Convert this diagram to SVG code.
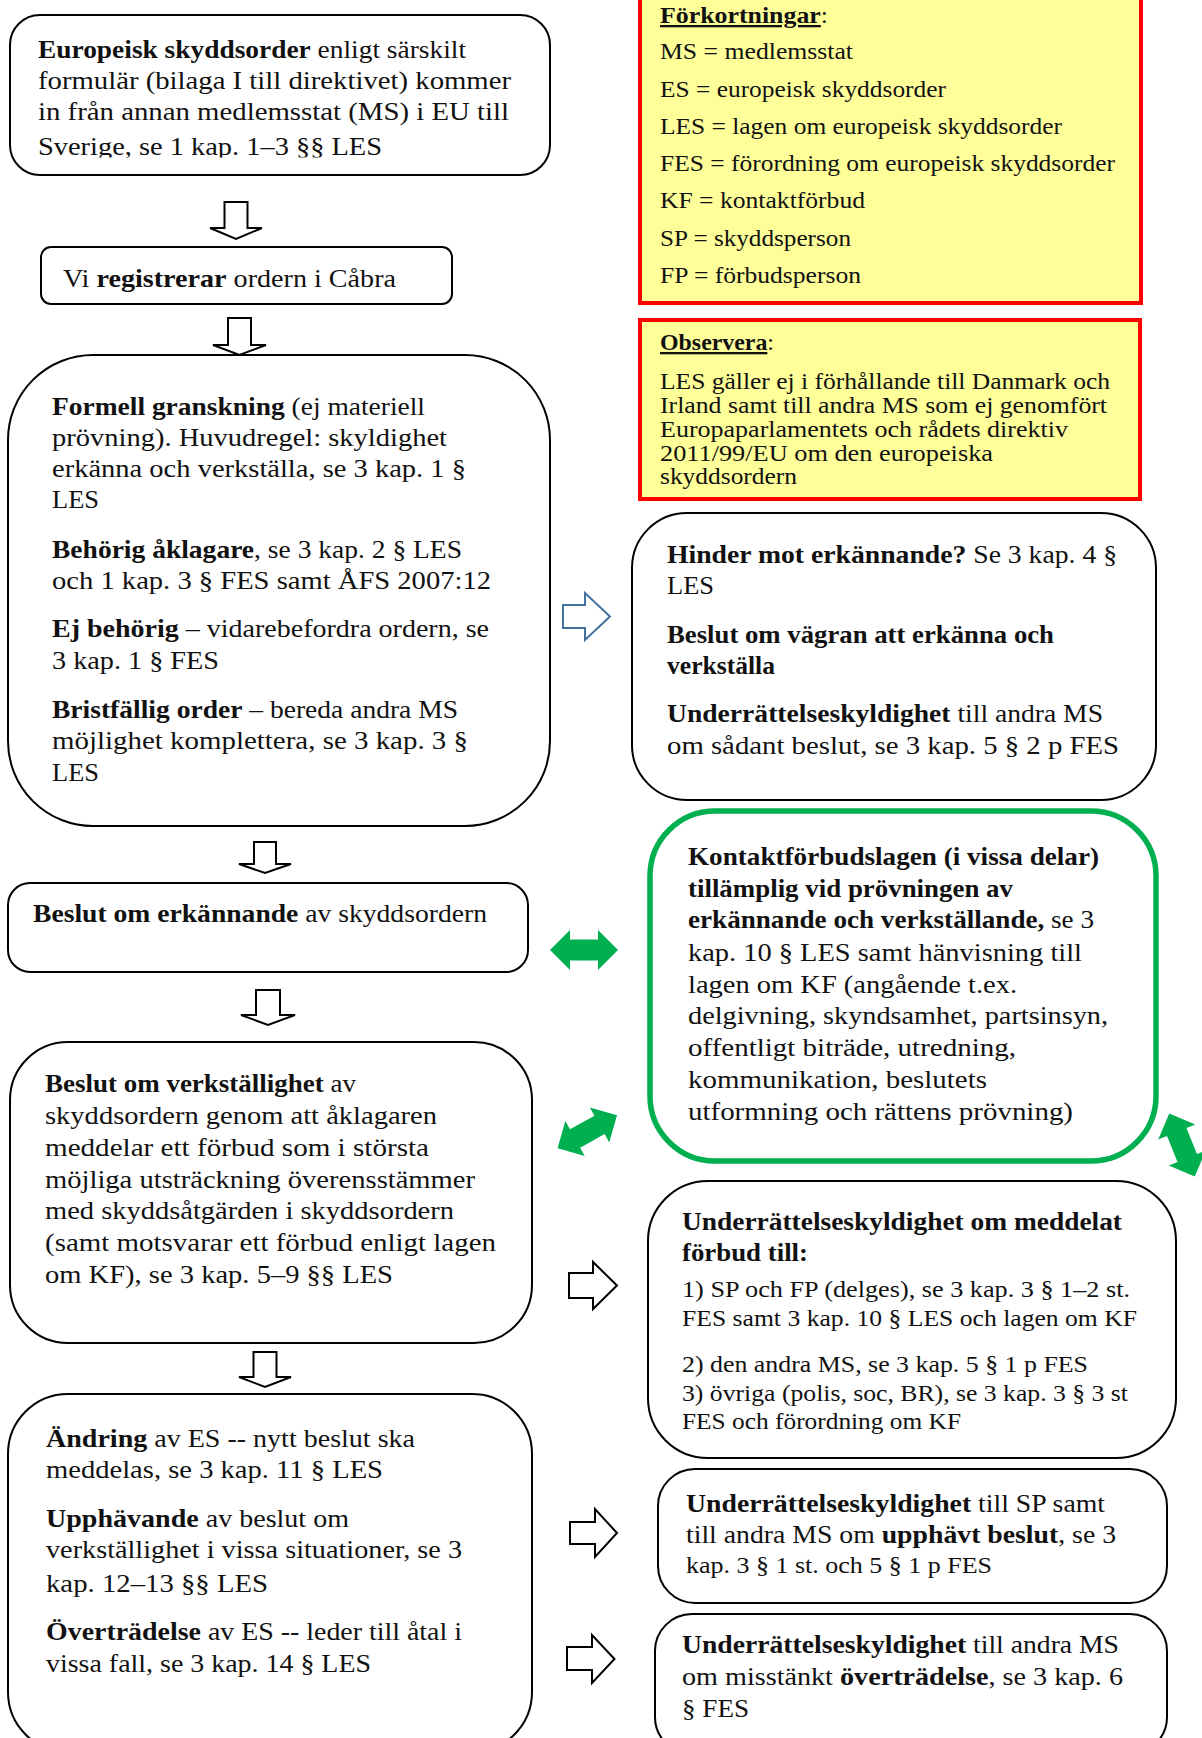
<svg xmlns="http://www.w3.org/2000/svg" xmlns:xlink="http://www.w3.org/1999/xlink" width="1202" height="1738" viewBox="0 0 1202 1738">
<style>
.t{font-family:"Liberation Serif","Times New Roman",serif;font-size:25px;fill:#111}
.s{font-size:23px}
.b{font-weight:bold}
.u{text-decoration:underline}
.box{fill:#fff;stroke:#000;stroke-width:2}
.note{fill:#FFFF99;stroke:#FF0000;stroke-width:4}
.green{fill:#fff;stroke:#00B050;stroke-width:5.5}
.ha{fill:#fff;stroke:#000;stroke-width:2}
.blue{fill:#fff;stroke:#41719C;stroke-width:2}
.ga{fill:#00B050}
</style>
<defs>
<clipPath id="clipA"><rect x="0" y="0" width="600" height="157.5"/></clipPath>
<path id="dbl" d="M-34,0 L-14,-20 L-14,-10.5 L14,-10.5 L14,-20 L34,0 L14,20 L14,10.5 L-14,10.5 L-14,20 Z"/>
</defs>
<rect width="1202" height="1738" fill="#fff"/>

<g id="forkortningar">
<rect class="note" x="640" y="-10" width="501" height="313"/>
<text class="t s" x="660" y="23" textLength="168" lengthAdjust="spacingAndGlyphs"><tspan class="b u">Förkortningar</tspan>:</text>
<text class="t s" x="660" y="59" textLength="193" lengthAdjust="spacingAndGlyphs">MS = medlemsstat</text>
<text class="t s" x="660" y="97" textLength="286" lengthAdjust="spacingAndGlyphs">ES = europeisk skyddsorder</text>
<text class="t s" x="660" y="134" textLength="402" lengthAdjust="spacingAndGlyphs">LES = lagen om europeisk skyddsorder</text>
<text class="t s" x="660" y="171" textLength="455" lengthAdjust="spacingAndGlyphs">FES = förordning om europeisk skyddsorder</text>
<text class="t s" x="660" y="208" textLength="205" lengthAdjust="spacingAndGlyphs">KF = kontaktförbud</text>
<text class="t s" x="660" y="246" textLength="191" lengthAdjust="spacingAndGlyphs">SP = skyddsperson</text>
<text class="t s" x="660" y="283" textLength="201" lengthAdjust="spacingAndGlyphs">FP = förbudsperson</text>
</g>

<g id="observera">
<rect class="note" x="640" y="320" width="500" height="179"/>
<text class="t s" x="660" y="350" textLength="114" lengthAdjust="spacingAndGlyphs"><tspan class="b u">Observera</tspan>:</text>
<text class="t s" x="660" y="389" textLength="450" lengthAdjust="spacingAndGlyphs">LES gäller ej i förhållande till Danmark och</text>
<text class="t s" x="660" y="413" textLength="447" lengthAdjust="spacingAndGlyphs">Irland samt till andra MS som ej genomfört</text>
<text class="t s" x="660" y="437" textLength="408" lengthAdjust="spacingAndGlyphs">Europaparlamentets och rådets direktiv</text>
<text class="t s" x="660" y="461" textLength="333" lengthAdjust="spacingAndGlyphs">2011/99/EU om den europeiska</text>
<text class="t s" x="660" y="484" textLength="137" lengthAdjust="spacingAndGlyphs">skyddsordern</text>
</g>

<g id="europeisk-skyddsorder">
<rect class="box" x="10" y="15" width="540" height="160" rx="30"/>
<g clip-path="url(#clipA)">
<text class="t" x="38" y="58" textLength="428" lengthAdjust="spacingAndGlyphs"><tspan class="b">Europeisk skyddsorder</tspan> enligt särskilt</text>
<text class="t" x="38" y="89" textLength="473" lengthAdjust="spacingAndGlyphs">formulär (bilaga I till direktivet) kommer</text>
<text class="t" x="38" y="120" textLength="471" lengthAdjust="spacingAndGlyphs">in från annan medlemsstat (MS) i EU till</text>
<text class="t" x="38" y="155" textLength="344" lengthAdjust="spacingAndGlyphs">Sverige, se 1 kap. 1–3 §§ LES</text>
</g>
</g>

<g id="registrera">
<rect class="box" x="41" y="247" width="411" height="57" rx="10"/>
<text class="t" x="63" y="287" textLength="333" lengthAdjust="spacingAndGlyphs">Vi <tspan class="b">registrerar</tspan> ordern i Cåbra</text>
</g>

<g id="formell-granskning">
<rect class="box" x="8" y="355" width="542" height="471" rx="85"/>
<text class="t" x="52" y="415" textLength="373" lengthAdjust="spacingAndGlyphs"><tspan class="b">Formell granskning</tspan> (ej materiell</text>
<text class="t" x="52" y="446" textLength="395" lengthAdjust="spacingAndGlyphs">prövning). Huvudregel: skyldighet</text>
<text class="t" x="52" y="477" textLength="414" lengthAdjust="spacingAndGlyphs">erkänna och verkställa, se 3 kap. 1 §</text>
<text class="t" x="52" y="508" textLength="47" lengthAdjust="spacingAndGlyphs">LES</text>
<text class="t" x="52" y="558" textLength="410" lengthAdjust="spacingAndGlyphs"><tspan class="b">Behörig åklagare</tspan>, se 3 kap. 2 § LES</text>
<text class="t" x="52" y="589" textLength="439" lengthAdjust="spacingAndGlyphs">och 1 kap. 3 § FES samt ÅFS 2007:12</text>
<text class="t" x="52" y="637" textLength="437" lengthAdjust="spacingAndGlyphs"><tspan class="b">Ej behörig</tspan> – vidarebefordra ordern, se</text>
<text class="t" x="52" y="669" textLength="167" lengthAdjust="spacingAndGlyphs">3 kap. 1 § FES</text>
<text class="t" x="52" y="718" textLength="406" lengthAdjust="spacingAndGlyphs"><tspan class="b">Bristfällig order</tspan> – bereda andra MS</text>
<text class="t" x="52" y="749" textLength="416" lengthAdjust="spacingAndGlyphs">möjlighet komplettera, se 3 kap. 3 §</text>
<text class="t" x="52" y="781" textLength="47" lengthAdjust="spacingAndGlyphs">LES</text>
</g>

<g id="hinder">
<rect class="box" x="632" y="513" width="524" height="287" rx="55"/>
<text class="t" x="667" y="563" textLength="450" lengthAdjust="spacingAndGlyphs"><tspan class="b">Hinder mot erkännande?</tspan> Se 3 kap. 4 §</text>
<text class="t" x="667" y="594" textLength="47" lengthAdjust="spacingAndGlyphs">LES</text>
<text class="t b" x="667" y="643" textLength="387" lengthAdjust="spacingAndGlyphs">Beslut om vägran att erkänna och</text>
<text class="t b" x="667" y="674" textLength="108" lengthAdjust="spacingAndGlyphs">verkställa</text>
<text class="t" x="667" y="722" textLength="436" lengthAdjust="spacingAndGlyphs"><tspan class="b">Underrättelseskyldighet</tspan> till andra MS</text>
<text class="t" x="667" y="754" textLength="452" lengthAdjust="spacingAndGlyphs">om sådant beslut, se 3 kap. 5 § 2 p FES</text>
</g>

<g id="kontaktforbudslagen">
<rect class="green" x="650" y="811" width="506" height="350" rx="65"/>
<text class="t b" x="688" y="865" textLength="411" lengthAdjust="spacingAndGlyphs">Kontaktförbudslagen (i vissa delar)</text>
<text class="t b" x="688" y="897" textLength="325" lengthAdjust="spacingAndGlyphs">tillämplig vid prövningen av</text>
<text class="t" x="688" y="928" textLength="406" lengthAdjust="spacingAndGlyphs"><tspan class="b">erkännande och verkställande,</tspan> se 3</text>
<text class="t" x="688" y="961" textLength="394" lengthAdjust="spacingAndGlyphs">kap. 10 § LES samt hänvisning till</text>
<text class="t" x="688" y="993" textLength="329" lengthAdjust="spacingAndGlyphs">lagen om KF (angående t.ex.</text>
<text class="t" x="688" y="1024" textLength="420" lengthAdjust="spacingAndGlyphs">delgivning, skyndsamhet, partsinsyn,</text>
<text class="t" x="688" y="1056" textLength="328" lengthAdjust="spacingAndGlyphs">offentligt biträde, utredning,</text>
<text class="t" x="688" y="1088" textLength="299" lengthAdjust="spacingAndGlyphs">kommunikation, beslutets</text>
<text class="t" x="688" y="1120" textLength="385" lengthAdjust="spacingAndGlyphs">utformning och rättens prövning)</text>
</g>

<g id="beslut-erkannande">
<rect class="box" x="8" y="883" width="520" height="89" rx="22"/>
<text class="t" x="33" y="922" textLength="454" lengthAdjust="spacingAndGlyphs"><tspan class="b">Beslut om erkännande</tspan> av skyddsordern</text>
</g>

<g id="beslut-verkstallighet">
<rect class="box" x="10" y="1042" width="522" height="301" rx="58"/>
<text class="t" x="45" y="1092" textLength="311" lengthAdjust="spacingAndGlyphs"><tspan class="b">Beslut om verkställighet</tspan> av</text>
<text class="t" x="45" y="1124" textLength="392" lengthAdjust="spacingAndGlyphs">skyddsordern genom att åklagaren</text>
<text class="t" x="45" y="1156" textLength="384" lengthAdjust="spacingAndGlyphs">meddelar ett förbud som i största</text>
<text class="t" x="45" y="1188" textLength="430" lengthAdjust="spacingAndGlyphs">möjliga utsträckning överensstämmer</text>
<text class="t" x="45" y="1219" textLength="409" lengthAdjust="spacingAndGlyphs">med skyddsåtgärden i skyddsordern</text>
<text class="t" x="45" y="1251" textLength="451" lengthAdjust="spacingAndGlyphs">(samt motsvarar ett förbud enligt lagen</text>
<text class="t" x="45" y="1283" textLength="348" lengthAdjust="spacingAndGlyphs">om KF), se 3 kap. 5–9 §§ LES</text>
</g>

<g id="underrattelse-forbud">
<rect class="box" x="648" y="1181" width="528" height="277" rx="60"/>
<text class="t b" x="682" y="1230" textLength="440" lengthAdjust="spacingAndGlyphs">Underrättelseskyldighet om meddelat</text>
<text class="t b" x="682" y="1261" textLength="126" lengthAdjust="spacingAndGlyphs">förbud till:</text>
<text class="t s" x="682" y="1297" textLength="448" lengthAdjust="spacingAndGlyphs">1) SP och FP (delges), se 3 kap. 3 § 1–2 st.</text>
<text class="t s" x="682" y="1326" textLength="455" lengthAdjust="spacingAndGlyphs">FES samt 3 kap. 10 § LES och lagen om KF</text>
<text class="t s" x="682" y="1372" textLength="406" lengthAdjust="spacingAndGlyphs">2) den andra MS, se 3 kap. 5 § 1 p FES</text>
<text class="t s" x="682" y="1401" textLength="446" lengthAdjust="spacingAndGlyphs">3) övriga (polis, soc, BR), se 3 kap. 3 § 3 st</text>
<text class="t s" x="682" y="1429" textLength="279" lengthAdjust="spacingAndGlyphs">FES och förordning om KF</text>
</g>

<g id="andring">
<rect class="box" x="8" y="1394" width="524" height="358" rx="60"/>
<text class="t" x="46" y="1447" textLength="369" lengthAdjust="spacingAndGlyphs"><tspan class="b">Ändring</tspan> av ES -- nytt beslut ska</text>
<text class="t" x="46" y="1478" textLength="337" lengthAdjust="spacingAndGlyphs">meddelas, se 3 kap. 11 § LES</text>
<text class="t" x="46" y="1527" textLength="303" lengthAdjust="spacingAndGlyphs"><tspan class="b">Upphävande</tspan> av beslut om</text>
<text class="t" x="46" y="1558" textLength="416" lengthAdjust="spacingAndGlyphs">verkställighet i vissa situationer, se 3</text>
<text class="t" x="46" y="1592" textLength="222" lengthAdjust="spacingAndGlyphs">kap. 12–13 §§ LES</text>
<text class="t" x="46" y="1640" textLength="416" lengthAdjust="spacingAndGlyphs"><tspan class="b">Överträdelse</tspan> av ES -- leder till åtal i</text>
<text class="t" x="46" y="1672" textLength="325" lengthAdjust="spacingAndGlyphs">vissa fall, se 3 kap. 14 § LES</text>
</g>

<g id="underrattelse-upphavt">
<rect class="box" x="658" y="1469" width="509" height="134" rx="37"/>
<text class="t" x="686" y="1512" textLength="419" lengthAdjust="spacingAndGlyphs"><tspan class="b">Underrättelseskyldighet</tspan> till SP samt</text>
<text class="t" x="686" y="1543" textLength="430" lengthAdjust="spacingAndGlyphs">till andra MS om <tspan class="b">upphävt beslut</tspan>, se 3</text>
<text class="t s" x="686" y="1573" textLength="306" lengthAdjust="spacingAndGlyphs">kap. 3 § 1 st. och 5 § 1 p FES</text>
</g>

<g id="underrattelse-overtradelse">
<rect class="box" x="655" y="1614" width="512" height="140" rx="37"/>
<text class="t" x="682" y="1653" textLength="437" lengthAdjust="spacingAndGlyphs"><tspan class="b">Underrättelseskyldighet</tspan> till andra MS</text>
<text class="t" x="682" y="1685" textLength="441" lengthAdjust="spacingAndGlyphs">om misstänkt <tspan class="b">överträdelse</tspan>, se 3 kap. 6</text>
<text class="t" x="682" y="1717" textLength="67" lengthAdjust="spacingAndGlyphs">§ FES</text>
</g>

<g id="connectors">
<polygon class="ha" points="224.5,202 247.5,202 247.5,228 262,228 236,239 210,228 224.5,228"/>
<polygon class="ha" points="228,318 251,318 251,345 266,345 239.5,355 213,345 228,345"/>
<polygon class="ha" points="254,842 276,842 276,864 291,864 265,873 239,864 254,864"/>
<polygon class="ha" points="256,990 280,990 280,1015 295,1015 268,1025 241,1015 256,1015"/>
<polygon class="ha" points="253.5,1352 276.5,1352 276.5,1377 291,1377 265,1387 239,1377 253.5,1377"/>
<polygon class="blue" points="563,605 585,605 585,593 610,616.5 585,640 585,628 563,628"/>
<polygon class="ha" points="569,1273 593,1273 593,1262 617,1285.5 593,1309 593,1298 569,1298"/>
<polygon class="ha" points="570,1522 595,1522 595,1509 617,1533 595,1557 595,1544 570,1544"/>
<polygon class="ha" points="567,1647 592,1647 592,1635 614.5,1659 592,1683 592,1670 567,1670"/>
<use xlink:href="#dbl" class="ga" transform="translate(584,950)"/>
<use xlink:href="#dbl" class="ga" transform="translate(587.3,1131.7) rotate(-29)"/>
<use xlink:href="#dbl" class="ga" transform="translate(1182,1145) rotate(68)"/>
</g>
</svg>
